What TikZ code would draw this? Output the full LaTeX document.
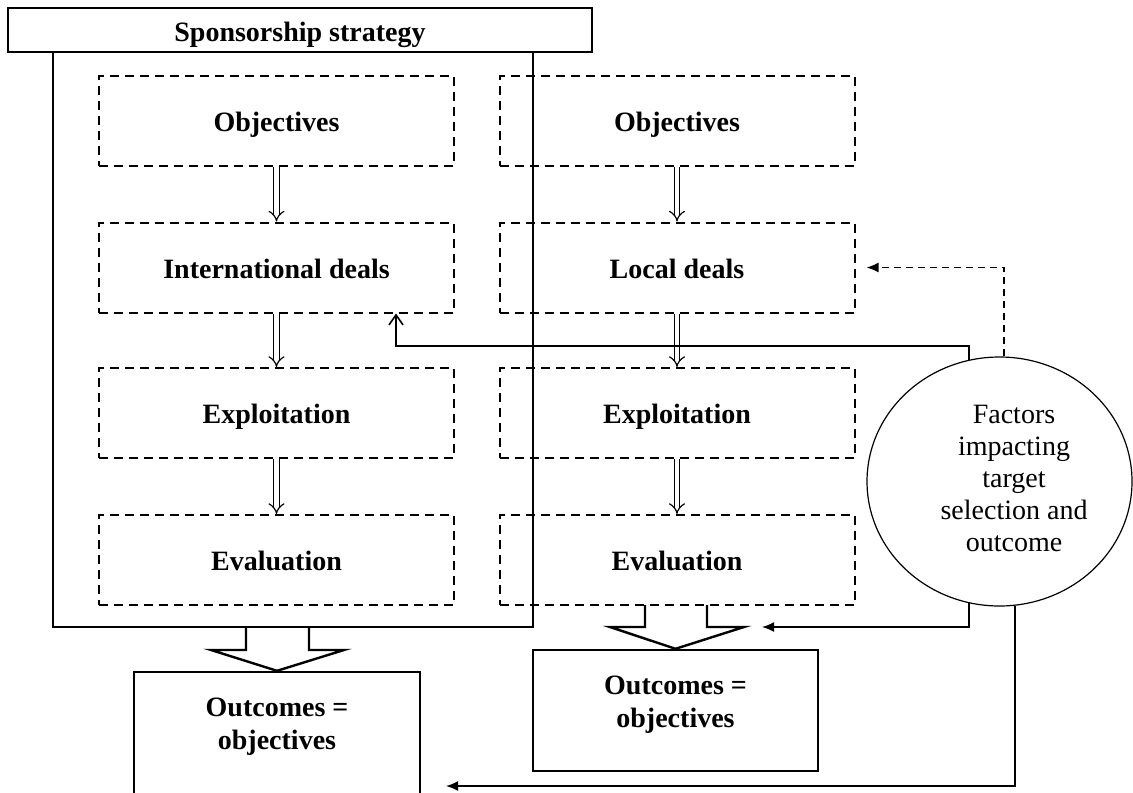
\documentclass[tikz,border=0pt]{standalone}
\usepackage{fontspec}
\setmainfont{Liberation Serif}
\usetikzlibrary{arrows.meta,shapes.geometric}

\begin{document}
\fontsize{14}{16.5}\selectfont
\begin{tikzpicture}
          [x = 0.5pt, y = -0.5pt, >= {Latex[length = 6pt, width = 5pt]},
           stage/.style = {draw, line width = 1pt, dash pattern = on 4.5pt off 3pt,
             minimum width = 177.5pt, minimum height = 45pt, font = \bfseries,
             text height = 10.5pt, text depth = 0pt},
           frame/.style = {draw, line width = 1.2pt},
           flow/.style = {double, double distance = 2.2pt, line width = 0.6pt, -Implies},
           link/.style = {line width = 0.8pt}]
          \useasboundingbox (0,0) rectangle (1133,792);
          % strategy frame
          \node[frame, minimum width = 240pt, minimum height = 287.5pt] (outer) at (293,339.5) {};
          \node[frame, fill = white, minimum width = 292pt, minimum height = 22pt,
            font = \bfseries, text height = 11.5pt, text depth = 0pt] (head) at (300,30) {Sponsorship strategy};
          % left column
          \node[stage] (lobj) at (276.5,121) {Objectives};
          \node[stage] (lint) at (276.5,267.5) {International deals};
          \node[stage] (lexp) at (276.5,413) {Exploitation};
          \node[stage] (leval) at (276.5,560) {Evaluation};
          \draw[flow] (lobj) -- (lint);
          \draw[flow] (lint) -- (lexp);
          \draw[flow] (lexp) -- (leval);
          % right column
          \node[stage] (robj) at (677,121) {Objectives};
          \node[stage] (rloc) at (677,267.5) {Local deals};
          \node[stage] (rexp) at (677,413) {Exploitation};
          \node[stage] (reval) at (677,560) {Evaluation};
          \draw[flow] (robj) -- (rloc);
          \draw[flow] (rloc) -- (rexp);
          \draw[flow] (rexp) -- (reval);
          % outcomes
          \node[frame, minimum width = 143pt, minimum height = 64pt] (lout) at (277,736) {};
          \node[font = \bfseries, align = center] (louttext) at (277,726.5) {Outcomes =\\objectives};
          \node[frame, minimum width = 142.5pt, minimum height = 60.5pt] (rout) at (675.5,710.5) {};
          \node[font = \bfseries, align = center] (routtext) at (675.5,705) {Outcomes =\\objectives};
          \draw[frame] (246,627) -- (246,650) -- (211,650) -- (lout.north)
            -- (344,650) -- (309,650) -- (309,627);
          \draw[frame] (645,605) -- (645,627) -- (610,627) -- (rout.north)
            -- (744,627) -- (707,627) -- (707,605);
          % factors
          \node[draw, ellipse, line width = 0.6pt, minimum width = 132.5pt,
            minimum height = 124.5pt] (factors) at (999.5,481.5) {};
          \node[align = center, font = \fontsize{14}{16}\selectfont] (factorstext) at (1014,478.5)
            {Factors\\impacting\\target\\selection and\\outcome};
          \coordinate (bend) at (396,346);
          \coordinate (rtip) at (762,627);
          \coordinate (ltip) at (446,786);
          \draw[link, -{Straight Barb[length = 5pt, width = 7pt]}]
            (factors.104.6) |- (bend) -- (bend |- lint.south);
          \draw[link, dash pattern = on 3.5pt off 2.5pt, ->] (factors.88) |- ([xshift = 5.5pt]rloc.east);
          \draw[link, ->] (factors.-104.6) |- (rtip);
          \draw[link, ->] (factors.-83.3) |- (ltip);
        \end{tikzpicture}
\end{document}
